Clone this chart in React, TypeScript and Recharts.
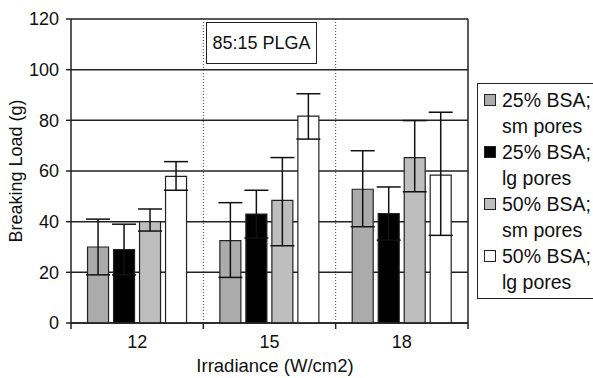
import React from "react";
import {
  BarChart,
  Bar,
  XAxis,
  YAxis,
  CartesianGrid,
  ErrorBar,
} from "recharts";

const categories = ["12", "15", "18"];
const sm25 = [30, 32.5, 52.8];
const sm25Err = [[11, 11], [14.5, 15], [14.8, 15.2]];
const lg25 = [29, 43, 43.2];
const lg25Err = [[10, 10], [9.4, 9.4], [10.5, 10.5]];
const sm50 = [40, 48.4, 65.3];
const sm50Err = [[3.7, 5], [17.9, 16.9], [13.5, 14.6]];
const lg50 = [57.9, 81.7, 58.4];
const lg50Err = [[5.5, 5.8], [9.1, 8.8], [23.8, 24.8]];
const yTicks = [0, 20, 40, 60, 80, 100, 120];

const series = [
  { key: "sm25", label: "25% BSA;", sub: "sm pores", fill: "#ababab" },
  { key: "lg25", label: "25% BSA;", sub: "lg pores", fill: "#000000" },
  { key: "sm50", label: "50% BSA;", sub: "sm pores", fill: "#bebebe" },
  { key: "lg50", label: "50% BSA;", sub: "lg pores", fill: "#ffffff" },
];

const data = categories.map((c, i) => ({
  cat: c,
  sm25: sm25[i],
  sm25Err: sm25Err[i],
  lg25: lg25[i],
  lg25Err: lg25Err[i],
  sm50: sm50[i],
  sm50Err: sm50Err[i],
  lg50: lg50[i],
  lg50Err: lg50Err[i],
}));

const FONT = "'Liberation Sans', Arial, sans-serif";
const W = 593;
const H = 378;
const margin = { top: 19, right: 125, left: 21, bottom: 25 };
const yAxisWidth = 50;
const plotWidth = W - margin.left - margin.right - yAxisWidth;
const band = plotWidth / categories.length;

const XTick = (props: any) => {
  const { x, y, payload, index } = props;
  return (
    <g>
      {index === 0 && (
        <line x1={x - band / 2} x2={x - band / 2} y1={y} y2={y + 6} stroke="#222" strokeWidth={1.5} />
      )}
      <line x1={x + band / 2} x2={x + band / 2} y1={y} y2={y + 6} stroke="#222" strokeWidth={1.5} />
      <text x={x} y={y + 25} textAnchor="middle" fontSize={18} fill="#111" fontFamily={FONT}>
        {payload.value}
      </text>
    </g>
  );
};

const LegendBox = () => (
  <div
    style={{
      position: "absolute",
      left: 477,
      top: 83,
      width: 130,
      height: 216,
      border: "1.5px solid #222",
      background: "#fff",
      padding: "3px 0 0 6px",
      fontFamily: FONT,
      fontSize: 19.5,
      color: "#111",
      boxSizing: "border-box",
    }}
  >
    {series.map((s) => (
      <div key={s.key} style={{ lineHeight: "26px" }}>
        <div style={{ display: "flex", alignItems: "center", whiteSpace: "nowrap" }}>
          <span
            style={{
              display: "inline-block",
              width: 10,
              height: 10,
              background: s.fill,
              border: "1px solid #222",
              marginRight: 6,
              flexShrink: 0,
            }}
          />
          <span>{s.label}</span>
        </div>
        <div style={{ paddingLeft: 18, whiteSpace: "nowrap" }}>{s.sub}</div>
      </div>
    ))}
  </div>
);

export default function App() {
  return (
    <div
      style={{
        position: "absolute",
        left: 0,
        top: 0,
        width: W,
        height: H,
        background: "#fff",
        overflow: "hidden",
      }}
    >
      <BarChart
        width={W}
        height={H}
        data={data}
        margin={margin}
        barCategoryGap="12.5%"
        barGap={5}
      >
        <CartesianGrid
          stroke="#222"
          strokeWidth={1.5}
          vertical
          horizontal
          verticalCoordinatesGenerator={({ offset }: any) => [offset.left + offset.width]}
        />
        <CartesianGrid
          stroke="#444"
          strokeWidth={1}
          strokeDasharray="1 2"
          horizontal={false}
          verticalCoordinatesGenerator={({ offset }: any) =>
            [1, 2].map((i) => offset.left + (offset.width * i) / categories.length)
          }
        />
        <XAxis
          dataKey="cat"
          height={30}
          tickSize={0}
          tickMargin={0}
          tick={<XTick />}
          axisLine={{ stroke: "#222", strokeWidth: 1.5 }}
          interval={0}
        />
        <YAxis
          width={yAxisWidth}
          domain={[0, 120]}
          ticks={yTicks}
          tickSize={5}
          tickMargin={7}
          axisLine={{ stroke: "#222", strokeWidth: 1.5 }}
          tickLine={{ stroke: "#222", strokeWidth: 1.5 }}
          tick={{ fontSize: 18, fill: "#111", fontFamily: FONT }}
        />
        {series.map((s) => (
          <Bar
            key={s.key}
            dataKey={s.key}
            name={`${s.label} ${s.sub}`}
            fill={s.fill}
            stroke="#222"
            strokeWidth={1.2}
            isAnimationActive={false}
          >
            <ErrorBar dataKey={s.key + "Err"} width={12} stroke="#111" strokeWidth={1.5} />
          </Bar>
        ))}
      </BarChart>
      <LegendBox />
      <div
        style={{
          position: "absolute",
          left: 206,
          top: 22,
          width: 111,
          height: 42,
          border: "1.5px solid #222",
          boxSizing: "border-box",
          display: "flex",
          alignItems: "center",
          justifyContent: "center",
          fontFamily: FONT,
          fontSize: 18,
          color: "#111",
          background: "#fff",
        }}
      >
        85:15 PLGA
      </div>
      <div
        style={{
          position: "absolute",
          left: 16,
          top: 171,
          transform: "translate(-50%, -50%) rotate(-90deg)",
          whiteSpace: "nowrap",
          fontFamily: FONT,
          fontSize: 18,
          color: "#111",
        }}
      >
        Breaking Load (g)
      </div>
      <div
        style={{
          position: "absolute",
          left: 275,
          top: 366,
          transform: "translate(-50%, -50%)",
          whiteSpace: "nowrap",
          fontFamily: FONT,
          fontSize: 18.5,
          color: "#111",
        }}
      >
        Irradiance (W/cm2)
      </div>
    </div>
  );
}
